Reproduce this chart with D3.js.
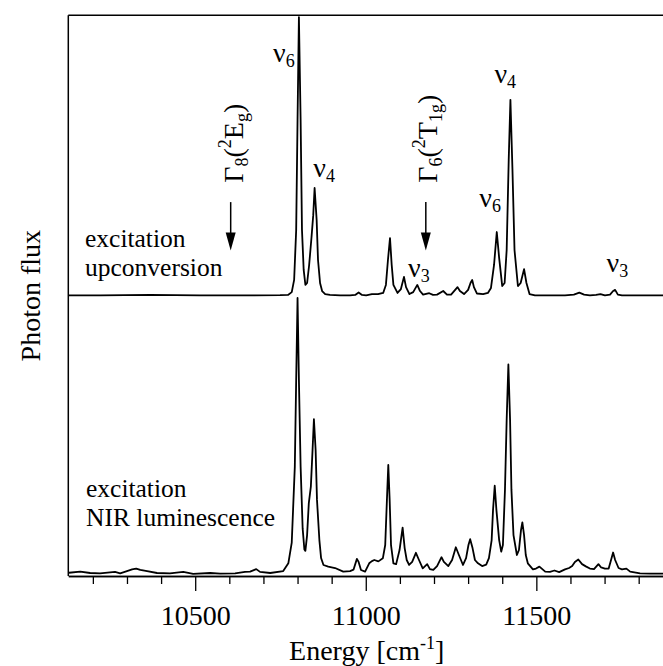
<!DOCTYPE html>
<html>
<head>
<meta charset="utf-8">
<title>Photon flux</title>
<script src="https://d3js.org/d3.v7.min.js"></script>
<style>
  body { margin: 0; background: #fff; }
  svg text, svg tspan { font-family: "Liberation Serif", "Times New Roman", Times, "DejaVu Serif", serif; fill: #000; }
</style>
</head>
<body>
<div id="chart"></div>
<script>

// energies in cm-1, flux relative (0 = baseline, 1 = strongest line)
var upE = [10130, 10221, 10368, 10514, 10661, 10749, 10772, 10783, 10790, 10796,
  10800, 10804, 10809, 10813, 10818, 10823, 10828, 10834, 10841, 10846,
  10850, 10856, 10860, 10866, 10872, 10881, 10895, 10925, 10954, 10969,
  10979, 10989, 11001, 11018, 11036, 11051, 11059, 11065, 11071, 11076,
  11081, 11093, 11103, 11112, 11118, 11128, 11139, 11151, 11159, 11168,
  11186, 11197, 11209, 11227, 11238, 11250, 11262, 11269, 11276, 11288,
  11300, 11307, 11312, 11317, 11326, 11344, 11358, 11367, 11376, 11384,
  11391, 11400, 11407, 11413, 11419, 11424, 11430, 11436, 11446, 11454,
  11464, 11471, 11480, 11496, 11540, 11584, 11610, 11626, 11640, 11657,
  11675, 11688, 11701, 11716, 11725, 11731, 11739, 11751, 11804, 11871, 11900];
var upI = [0.002, 0.002, 0.004, 0.002, 0.002, 0.003, 0.004, 0.014, 0.058, 0.238,
  0.635, 1.007, 0.635, 0.238, 0.094, 0.040, 0.047, 0.112, 0.213, 0.292,
  0.390, 0.274, 0.130, 0.047, 0.018, 0.007, 0.004, 0.002, 0.002, 0.004,
  0.013, 0.004, 0.002, 0.007, 0.007, 0.011, 0.040, 0.130, 0.209, 0.112,
  0.040, 0.011, 0.025, 0.069, 0.032, 0.007, 0.014, 0.040, 0.018, 0.005,
  0.010, 0.004, 0.005, 0.018, 0.005, 0.005, 0.022, 0.032, 0.018, 0.007,
  0.022, 0.047, 0.058, 0.032, 0.009, 0.007, 0.011, 0.029, 0.112, 0.231,
  0.137, 0.036, 0.047, 0.166, 0.491, 0.708, 0.455, 0.166, 0.036, 0.047,
  0.097, 0.047, 0.007, 0.002, 0.002, 0.002, 0.005, 0.012, 0.005, 0.002,
  0.004, 0.007, 0.002, 0.005, 0.018, 0.022, 0.005, 0.002, 0.002, 0.002, 0.002];

var lowE = [10130, 10163, 10192, 10221, 10265, 10280, 10300, 10315, 10327, 10339,
  10359, 10388, 10426, 10465, 10494, 10544, 10573, 10617, 10646, 10661,
  10679, 10690, 10720, 10758, 10773, 10783, 10792, 10796, 10800, 10804,
  10809, 10815, 10820, 10823, 10828, 10833, 10839, 10844, 10848, 10853,
  10857, 10864, 10869, 10876, 10890, 10910, 10934, 10954, 10964, 10974,
  10979, 10986, 10998, 11010, 11018, 11025, 11037, 11050, 11057, 11062,
  11066, 11070, 11074, 11081, 11089, 11099, 11108, 11114, 11120, 11127,
  11136, 11147, 11156, 11167, 11180, 11188, 11198, 11209, 11222, 11229,
  11242, 11253, 11264, 11273, 11285, 11294, 11301, 11306, 11313, 11320,
  11329, 11341, 11353, 11361, 11369, 11373, 11378, 11383, 11391, 11397,
  11402, 11408, 11413, 11418, 11423, 11427, 11433, 11443, 11449, 11455,
  11459, 11464, 11469, 11475, 11490, 11499, 11509, 11526, 11540, 11553,
  11567, 11584, 11596, 11605, 11613, 11623, 11634, 11645, 11657, 11669,
  11682, 11690, 11701, 11712, 11719, 11725, 11731, 11741, 11751, 11764,
  11775, 11804, 11833, 11871, 11900];
var lowI = [0.001, 0.005, 0.000, -0.001, 0.004, -0.001, 0.007, 0.013, 0.016, 0.011,
  0.007, 0.000, -0.001, 0.004, -0.003, 0.000, -0.002, -0.001, 0.004, 0.005,
  0.014, 0.004, 0.000, 0.007, 0.035, 0.110, 0.384, 0.697, 0.993, 0.697,
  0.384, 0.160, 0.085, 0.080, 0.137, 0.252, 0.312, 0.444, 0.555, 0.444,
  0.264, 0.119, 0.054, 0.029, 0.023, 0.018, 0.005, 0.007, 0.012, 0.051,
  0.040, 0.011, 0.005, 0.035, 0.043, 0.047, 0.042, 0.053, 0.101, 0.264,
  0.390, 0.264, 0.101, 0.035, 0.032, 0.083, 0.164, 0.090, 0.047, 0.029,
  0.040, 0.073, 0.047, 0.017, 0.032, 0.014, 0.011, 0.025, 0.057, 0.040,
  0.025, 0.047, 0.093, 0.065, 0.029, 0.054, 0.101, 0.122, 0.090, 0.047,
  0.035, 0.025, 0.030, 0.054, 0.119, 0.227, 0.315, 0.227, 0.119, 0.077,
  0.101, 0.300, 0.552, 0.753, 0.552, 0.300, 0.137, 0.065, 0.083, 0.155,
  0.183, 0.137, 0.065, 0.035, 0.013, 0.016, 0.023, 0.005, 0.004, 0.009,
  0.003, 0.013, 0.018, 0.025, 0.040, 0.049, 0.032, 0.024, 0.016, 0.014,
  0.032, 0.020, 0.016, 0.016, 0.047, 0.074, 0.047, 0.018, 0.013, 0.016,
  0.005, -0.001, -0.002, -0.002, -0.002];

var upperOffset = 1.0;

var majorTicks = [10500, 11000, 11500];
var minorTicks = [10200, 10300, 10400, 10600, 10700, 10800, 10900,
  11100, 11200, 11300, 11400, 11600, 11700, 11800];

// vibrational sidebands: mode number, energy, height of label baseline
var modeNames = ["6", "4", "3", "6", "4", "3"];
var modeE = [10728, 10846, 11124, 11333, 11377, 11706];
var modeV = [1.845, 1.431, 1.070, 1.322, 1.768, 1.088];

// electronic origins
var originE = [10604, 11176];
var originLabelE = [10640, 11209];
var originSub = ["8", "6"];
var originTerm = ["E", "T"];
var originTermSub = ["g", "1g"];

var W = 663, H = 666;
var serif = "'Liberation Serif', 'Times New Roman', Times, 'DejaVu Serif', serif";

var svg = d3.select("#chart").append("svg")
  .attr("width", W)
  .attr("height", H)
  .attr("font-family", serif);

var x = d3.scaleLinear().domain([10128, 11900]).range([68.3, 672.8]);
var y = d3.scaleLinear().domain([-0.0108, 2.0134]).range([576, 15.3]);

var line = d3.line()
  .x(function(d) { return x(d[0]); })
  .y(function(d) { return y(d[1]); });

var upper = upE.map(function(e, i) { return [e, upI[i] + upperOffset]; });
var lower = lowE.map(function(e, i) { return [e, lowI[i]]; });

// frame: left and top lines (plot runs past the right edge)
svg.append("line")
  .attr("x1", x(10128)).attr("x2", x(10128))
  .attr("y1", y.range()[1]).attr("y2", y.range()[0])
  .attr("stroke", "#000").attr("stroke-width", 1.5);
svg.append("line")
  .attr("x1", x(10128)).attr("x2", W)
  .attr("y1", y.range()[1]).attr("y2", y.range()[1])
  .attr("stroke", "#000").attr("stroke-width", 1.5);

// x axis
svg.append("g")
  .attr("transform", "translate(0," + y.range()[0] + ")")
  .call(d3.axisBottom(x).tickValues(minorTicks).tickSize(8).tickSizeOuter(0).tickFormat(""));
var majorAxis = svg.append("g")
  .attr("transform", "translate(0," + y.range()[0] + ")")
  .call(d3.axisBottom(x).tickValues(majorTicks).tickSize(15).tickSizeOuter(0).tickPadding(14)
    .tickFormat(d3.format("d")));
svg.selectAll("g").attr("font-family", serif);
svg.selectAll(".domain").attr("stroke-width", 1.5);
svg.selectAll(".tick line").attr("stroke-width", 1.3);
majorAxis.selectAll("text")
  .attr("font-family", serif)
  .attr("font-size", 28);

// spectra
svg.append("path").datum(upper)
  .attr("d", line)
  .attr("fill", "none").attr("stroke", "#000").attr("stroke-width", 1.8)
  .attr("stroke-linejoin", "round");
svg.append("path").datum(lower)
  .attr("d", line)
  .attr("fill", "none").attr("stroke", "#000").attr("stroke-width", 1.8)
  .attr("stroke-linejoin", "round");

// axis titles
var xt = svg.append("text")
  .attr("x", (x.range()[0] + W) / 2 + 1)
  .attr("y", 660)
  .attr("text-anchor", "middle")
  .attr("font-family", serif)
  .attr("font-size", 28);
xt.append("tspan").text("Energy [cm");
xt.append("tspan").attr("dy", -11).attr("font-size", 18).text("-1");
xt.append("tspan").attr("dy", 11).text("]");

svg.append("text")
  .attr("transform", "translate(40," + (y.range()[0] + y.range()[1]) / 2 + ") rotate(-90)")
  .attr("text-anchor", "middle")
  .attr("font-family", serif)
  .attr("font-size", 28)
  .text("Photon flux");

// trace names
function twoLines(x0, y0, a, b) {
  var t = svg.append("text").attr("x", x0).attr("y", y0)
    .attr("font-family", serif).attr("font-size", 25.5);
  t.append("tspan").attr("x", x0).text(a);
  t.append("tspan").attr("x", x0).attr("dy", 29).text(b);
}
twoLines(85, 246.7, "excitation", "upconversion");
twoLines(86, 496.7, "excitation", "NIR luminescence");

// mode labels
modeNames.forEach(function(m, i) {
  var t = svg.append("text")
    .attr("x", x(modeE[i]))
    .attr("y", y(modeV[i]))
    .attr("font-family", serif)
    .attr("font-size", 28);
  t.append("tspan").text("\u03bd");
  t.append("tspan").attr("dy", 5).attr("font-size", 18).text(m);
});

// origin arrows and labels
originE.forEach(function(e, i) {
  var ax = x(e);
  var yTop = y(1.339), yTip = y(1.164);
  svg.append("line")
    .attr("x1", ax).attr("x2", ax)
    .attr("y1", yTop).attr("y2", yTip - 14)
    .attr("stroke", "#000").attr("stroke-width", 1.5);
  svg.append("path")
    .attr("d", "M" + (ax - 5) + "," + (yTip - 18) + "L" + (ax + 5) + "," + (yTip - 18) +
      "L" + ax + "," + yTip + "Z")
    .attr("fill", "#000");

  var t = svg.append("text")
    .attr("transform", "translate(" + x(originLabelE[i]) + "," + y(1.409) + ") rotate(-90)")
    .attr("font-family", serif)
    .attr("font-size", 28);
  t.append("tspan").text("\u0393");
  t.append("tspan").attr("dy", 5).attr("font-size", 18).text(originSub[i]);
  t.append("tspan").attr("dy", -5).text("(");
  t.append("tspan").attr("dy", -12).attr("font-size", 18).text("2");
  t.append("tspan").attr("dy", 12).text(originTerm[i]);
  t.append("tspan").attr("dy", 5).attr("font-size", 18).text(originTermSub[i]);
  t.append("tspan").attr("dy", -5).text(")");
});

</script>
</body>
</html>
